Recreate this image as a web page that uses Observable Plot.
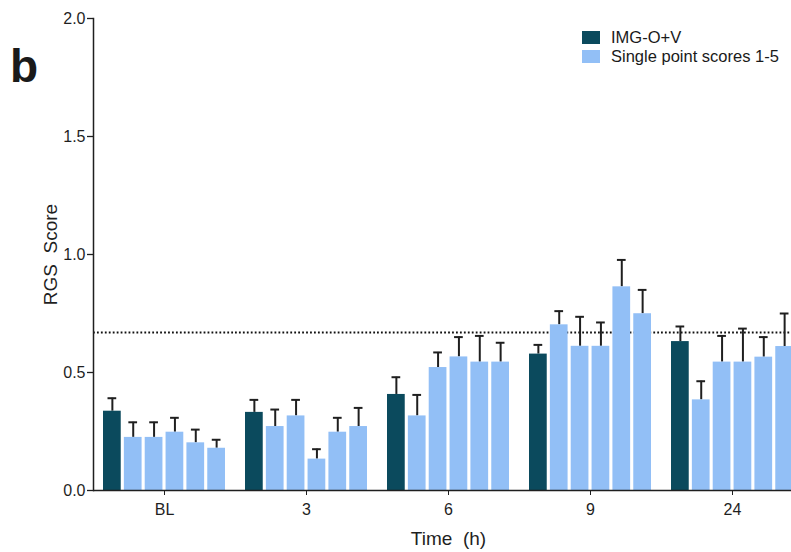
<!DOCTYPE html>
<html>
<head>
<meta charset="utf-8">
<script src="https://cdn.jsdelivr.net/npm/d3@7"></script>
<script src="https://cdn.jsdelivr.net/npm/@observablehq/plot@0.6"></script>
<style>
  html, body { margin: 0; padding: 0; background: #fff; overflow: hidden; width: 791px; height: 552px; }
  #wrap { position: relative; width: 791px; height: 552px; overflow: hidden; font-family: "Liberation Sans", Arial, sans-serif; color: #1a1a1a; }
  #chart svg { max-width: none !important; display: block; }
  #panel { position: absolute; left: 10px; top: 43px; font-size: 46px; line-height: 46px; font-weight: bold; }
  #legend { position: absolute; left: 582px; top: 28px; }
  .row { display: flex; align-items: center; height: 19px; white-space: nowrap; font-size: 16.5px; line-height: 19px; }
  .sw { width: 18px; height: 13px; margin-right: 11px; flex: none; }
  svg text { white-space: pre; }
  g[aria-label="y-axis label"] text, g[aria-label="fx-axis label"] text { font-size: 19px; }
</style>
</head>
<body>
<div id="wrap">
  <div id="chart"></div>
  <div id="panel">b</div>
  <div id="legend"></div>
</div>
<script>
// ---- data ----
const times = ["BL", "3", "6", "9", "24"];
const seriesNames = ["IMG-O+V", "Score 1", "Score 2", "Score 3", "Score 4", "Score 5"];
const legendLabels = ["IMG-O+V", "Single point scores 1-5"];
const colors = ["#0b4a5d", "#92bff6"];

const imgOV     = [0.336, 0.331, 0.407, 0.578, 0.631];
const imgOVErr  = [0.055, 0.053, 0.073, 0.039, 0.064];
const score1    = [0.225, 0.271, 0.316, 0.702, 0.384];
const score1Err = [0.064, 0.072, 0.089, 0.058, 0.079];
const score2    = [0.225, 0.316, 0.521, 0.611, 0.544];
const score2Err = [0.064, 0.068, 0.064, 0.125, 0.111];
const score3    = [0.247, 0.133, 0.566, 0.611, 0.544];
const score3Err = [0.061, 0.042, 0.084, 0.101, 0.142];
const score4    = [0.202, 0.247, 0.544, 0.863, 0.565];
const score4Err = [0.056, 0.061, 0.111, 0.114, 0.085];
const score5    = [0.179, 0.271, 0.544, 0.749, 0.610];
const score5Err = [0.036, 0.079, 0.082, 0.101, 0.140];

const threshold = 0.67;
const yTicks = [0, 0.5, 1.0, 1.5, 2.0];
const yLabel = "RGS  Score";
const xLabel = "Time  (h)";

// ---- build table ----
const seriesValues = [imgOV, score1, score2, score3, score4, score5];
const seriesErrs = [imgOVErr, score1Err, score2Err, score3Err, score4Err, score5Err];
const rows = [];
times.forEach((t, i) => {
  seriesNames.forEach((s, j) => {
    rows.push({
      time: t,
      series: s,
      kind: j === 0 ? legendLabels[0] : legendLabels[1],
      value: seriesValues[j][i],
      top: seriesValues[j][i] + seriesErrs[j][i]
    });
  });
});

const ink = "#1f1f1f";

const chart = Plot.plot({
  width: 810,
  height: 552,
  marginLeft: 93,
  marginRight: 7,
  marginTop: 18,
  marginBottom: 62,
  facet: { marginTop: 0, marginBottom: 0, marginLeft: 0, marginRight: 0 },
  style: { fontFamily: "Liberation Sans, Arial, sans-serif", background: "white", color: ink, maxWidth: "none" },
  fx: { domain: times, padding: 0, round: false, label: null },
  x: { domain: seriesNames, paddingInner: 0.15, paddingOuter: 0.48, round: false, axis: null },
  y: { domain: [0, 2], axis: null },
  color: { domain: legendLabels, range: colors },
  marks: [
    Plot.ruleY([threshold], { stroke: "#111", strokeWidth: 2, strokeDasharray: "1.8 2.15" }),
    Plot.ruleX(rows, { fx: "time", x: "series", y1: "value", y2: "top", stroke: ink, strokeWidth: 2 }),
    Plot.tickY(rows, { fx: "time", x: "series", y: "top", stroke: ink, strokeWidth: 2, insetLeft: 4.5, insetRight: 4.5 }),
    Plot.barY(rows, { fx: "time", x: "series", y: "value", fill: "kind" }),
    Plot.ruleY([0], { stroke: ink, strokeWidth: 1.5 }),
    Plot.frame({ anchor: "left", facetAnchor: "left", stroke: ink, strokeWidth: 1.5 }),
    Plot.axisY({
      ticks: yTicks, tickFormat: d3.format(".1f"), tickSize: 6, tickPadding: 2,
      fontSize: 16, stroke: ink, strokeWidth: 1.3,
      label: yLabel, labelAnchor: "center", labelOffset: 50, labelArrow: "none"
    }),
    Plot.axisFx({
      anchor: "bottom",
      tickSize: 5, tickPadding: 8, fontSize: 16,
      label: xLabel, labelAnchor: "center", labelOffset: 54, labelArrow: "none"
    })
  ]
});
document.getElementById("chart").appendChild(chart);

// ---- legend ----
const legend = document.getElementById("legend");
legendLabels.forEach((lab, i) => {
  const row = document.createElement("div");
  row.className = "row";
  const sw = document.createElement("div");
  sw.className = "sw";
  sw.style.background = colors[i];
  const tx = document.createElement("span");
  tx.textContent = lab;
  row.appendChild(sw);
  row.appendChild(tx);
  legend.appendChild(row);
});
</script>
</body>
</html>
